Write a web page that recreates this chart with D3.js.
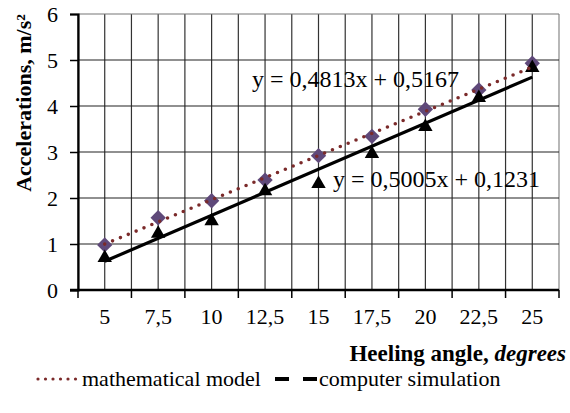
<!DOCTYPE html>
<html>
<head>
<meta charset="utf-8">
<script src="https://cdn.jsdelivr.net/npm/d3@7"></script>
<style>
  body { margin: 0; background: #fff; }
  text { font-family: "Liberation Serif", "Times New Roman", serif; fill: #000; }
</style>
</head>
<body>
<svg width="570" height="413"></svg>
<script>
// data
const angles = ["5", "7,5", "10", "12,5", "15", "17,5", "20", "22,5", "25"];
const mathModel = [0.98, 1.57, 1.94, 2.39, 2.92, 3.34, 3.93, 4.35, 4.93];
const compSim = [0.72, 1.25, 1.52, 2.17, 2.33, 2.98, 3.57, 4.2, 4.85];
// trendline coefficients (x = category index 1..9)
const mathTrend = [0.4813, 0.5167];
const simTrend = [0.5005, 0.1231];
const yTicks = [0, 1, 2, 3, 4, 5, 6];

const svg = d3.select("svg"),
    margin = {top: 14, right: 11, bottom: 123, left: 78},
    width = +svg.attr("width") - margin.left - margin.right,
    height = +svg.attr("height") - margin.top - margin.bottom;

const x = d3.scaleBand().domain(angles).range([0, width]).padding(0),
    y = d3.scaleLinear().domain([0, 6]).range([height, 0]);
const cx = i => x(angles[i]) + x.bandwidth() / 2;

const g = svg.append("g")
    .attr("transform", `translate(${margin.left},${margin.top})`);

// grid: vertical lines at band edges and band centres
const vlines = [];
angles.forEach((a, i) => { vlines.push(x(a)); vlines.push(cx(i)); });
vlines.push(width);
g.selectAll(".vgrid").data(vlines).enter().append("line")
    .attr("x1", d => d).attr("x2", d => d)
    .attr("y1", 0).attr("y2", height)
    .attr("stroke", (d, i) => i === vlines.length - 1 ? "#888" : "#333")
    .attr("stroke-width", 1.2);
g.selectAll(".hgrid").data(yTicks.slice(1)).enter().append("line")
    .attr("x1", 0).attr("x2", width)
    .attr("y1", d => y(d)).attr("y2", d => y(d))
    .attr("stroke", d => d === 6 ? "#777" : "#222")
    .attr("stroke-width", 1.2);

// y axis
const yAxis = g.append("g")
    .call(d3.axisLeft(y).tickValues(yTicks).tickSize(8).tickPadding(12).tickFormat(d3.format("d")));
yAxis.select(".domain").attr("stroke-width", 2.2);
yAxis.selectAll(".tick line").attr("stroke-width", 1.5);
yAxis.selectAll("text").style("font-size", "22px").attr("font-family", null);

// x axis: ticks at band boundaries, labels at centres
const xAxis = g.append("g")
    .attr("transform", `translate(0,${height})`);
xAxis.append("line")
    .attr("x1", -8).attr("x2", width)
    .attr("stroke", "#000").attr("stroke-width", 2.6);
xAxis.selectAll(".xt").data(angles.concat([null])).enter().append("line")
    .attr("x1", (d, i) => i < angles.length ? x(d) : width)
    .attr("x2", (d, i) => i < angles.length ? x(d) : width)
    .attr("y1", 0).attr("y2", 8)
    .attr("stroke", "#000").attr("stroke-width", 1.5);
xAxis.selectAll(".xl").data(angles).enter().append("text")
    .attr("x", (d, i) => cx(i))
    .attr("y", 34)
    .attr("text-anchor", "middle")
    .style("font-size", "22px")
    .text(d => d);

// markers
g.selectAll(".diamond").data(mathModel).enter().append("path")
    .attr("d", d3.symbol(d3.symbolDiamond2, 150))
    .attr("transform", (d, i) => `translate(${cx(i)},${y(d)})`)
    .attr("fill", "#5f497a");
g.selectAll(".tri").data(compSim).enter().append("path")
    .attr("d", d3.symbol(d3.symbolTriangle, 90))
    .attr("transform", (d, i) => `translate(${cx(i)},${y(d) + 1})`)
    .attr("fill", "#000");

// trendlines
const trendPts = c => [0, angles.length - 1].map(i => [cx(i), y(c[0] * (i + 1) + c[1])]);
const line = d3.line();
g.append("path")
    .attr("d", line(trendPts(simTrend)))
    .attr("stroke", "#000").attr("stroke-width", 3.2).attr("fill", "none");
g.append("path")
    .attr("d", line(trendPts(mathTrend)))
    .attr("stroke", "#7b2a2a").attr("stroke-width", 3.6)
    .attr("stroke-linecap", "round").attr("stroke-dasharray", "0 8.5")
    .attr("fill", "none");

// equations
svg.append("text").attr("x", 252).attr("y", 87)
    .style("font-size", "24px").text("y = 0,4813x + 0,5167");
svg.append("text").attr("x", 333).attr("y", 187)
    .style("font-size", "24px").text("y = 0,5005x + 0,1231");

// axis titles
svg.append("text")
    .attr("transform", "rotate(-90)")
    .attr("x", -103).attr("y", 31)
    .attr("text-anchor", "middle")
    .style("font-size", "22px").style("font-weight", "bold")
    .text("Accelerations, m/s²");
const xt = svg.append("text")
    .attr("x", 566).attr("y", 361)
    .attr("text-anchor", "end")
    .style("font-size", "23px").style("font-weight", "bold");
xt.append("tspan").text("Heeling angle, ");
xt.append("tspan").style("font-style", "italic").text("degrees");

// legend
const lg = svg.append("g").attr("transform", "translate(0,386)");
lg.append("line").attr("x1", 38).attr("x2", 79).attr("y1", -7).attr("y2", -7)
    .attr("stroke", "#7b2a2a").attr("stroke-width", 3.2)
    .attr("stroke-linecap", "round").attr("stroke-dasharray", "0 7.5");
lg.append("text").attr("x", 82).attr("y", 0).style("font-size", "22px").text("mathematical model");
lg.append("line").attr("x1", 275).attr("x2", 317).attr("y1", -7).attr("y2", -7)
    .attr("stroke", "#000").attr("stroke-width", 4)
    .attr("stroke-dasharray", "14 14");
lg.append("text").attr("x", 319).attr("y", 0).style("font-size", "22px").text("computer simulation");
</script>
</body>
</html>
